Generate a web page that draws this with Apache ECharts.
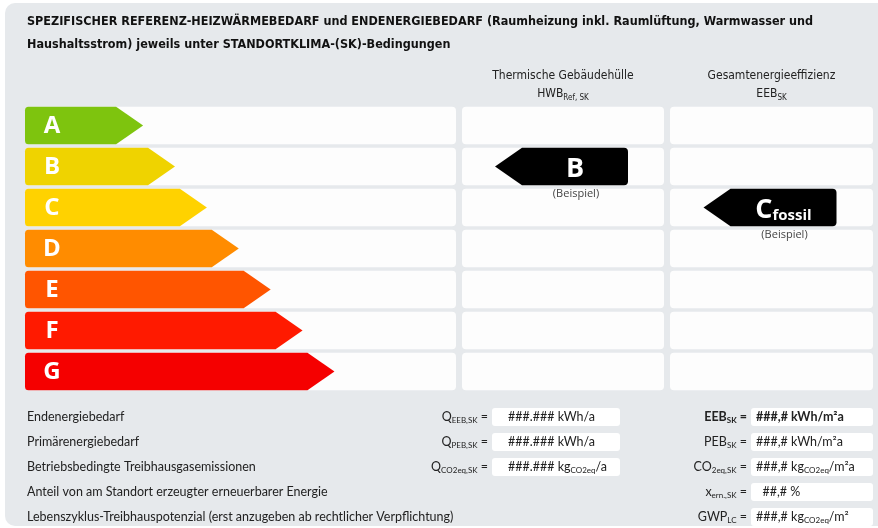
<!DOCTYPE html>
<html><head><meta charset="utf-8">
<script src="https://cdn.jsdelivr.net/npm/echarts@6/dist/echarts.min.js"></script>
<style>html,body{margin:0;padding:0;background:#fff}#c{width:878px;height:528px}</style>
</head><body><div id="c"></div>
<script>
// ---------- data ----------
const titleLines = [
  'SPEZIFISCHER REFERENZ-HEIZWÄRMEBEDARF und ENDENERGIEBEDARF (Raumheizung inkl. Raumlüftung, Warmwasser und',
  'Haushaltsstrom) jeweils unter STANDORTKLIMA-(SK)-Bedingungen'
];
const classes = ['A', 'B', 'C', 'D', 'E', 'F', 'G'];
const classColors = ['#7ec40e', '#efd300', '#ffd200', '#ff8c00', '#ff5500', '#ff1a00', '#f50000'];
const arrowLength = [27.4, 34.8, 42.2, 49.6, 57.0, 64.4, 71.8];
const columnTitles = ['Thermische Gebäudehülle', 'Gesamtenergieeffizienz'];
const columnSymbols = ['HWB_{Ref, SK}', 'EEB_{SK}'];
const ratedClass = ['B', 'C'];
const ratedSuffix = ['', 'fossil'];
const ratedNote = ['(Beispiel)', '(Beispiel)'];
const bottomLabels = [
  'Endenergiebedarf',
  'Primärenergiebedarf',
  'Betriebsbedingte Treibhausgasemissionen',
  'Anteil von am Standort erzeugter erneuerbarer Energie',
  'Lebenszyklus-Treibhauspotenzial (erst anzugeben ab rechtlicher Verpflichtung)'
];
const absSymbols = ['Q_{EEB,SK} =', 'Q_{PEB,SK} =', 'Q_{CO2eq,SK} =', '', ''];
const absValues = ['###.### kWh/a', '###.### kWh/a', '###.### kg_{CO2eq}/a', '', ''];
const specSymbols = ['EEB_{SK} =', 'PEB_{SK} =', 'CO_{2eq,SK} =', 'x_{ern.,SK} =', 'GWP_{LC} ='];
const specValues = ['###,# kWh/m²a', '###,# kWh/m²a', '###,# kg_{CO2eq}/m²a', '  ##,# %', '###,# kg_{CO2eq}/m²'];
const boldRow = 0;

// ---------- helpers ----------
const BODY = 'Lato, "Open Sans", sans-serif';
const COND = '"Liberation Sans Narrow", "DejaVu Sans Condensed", sans-serif';
const HEAD = '"Open Sans", Lato, sans-serif';

function toRich(str) {
  return '{m|' + str.replace(/_\{([^}]*)\}/g, '}{s|$1}{m|') + '}';
}
function richStyle(size, family, weight, color) {
  return {
    m: { fontSize: size, fontFamily: family, fontWeight: weight, fill: color, lineHeight: size + 3 },
    s: { fontSize: Math.round(size * 0.66), fontFamily: family, fontWeight: weight, fill: color,
         lineHeight: Math.round(size * 0.66), verticalAlign: 'bottom' }
  };
}
function gText(x, y, text, opt) {
  return {
    type: 'text', z: 10, x: 0, y: 0,
    style: Object.assign({
      text: text, x: x, y: y, fill: '#222',
      textAlign: 'left', textVerticalAlign: 'middle',
      align: 'left', verticalAlign: 'middle'
    }, opt)
  };
}

// ---------- layout ----------
const rowsTop = 105, rowsHeight = 287;
const grids = [
  { left: 25, top: rowsTop, width: 431, height: rowsHeight },
  { left: 462, top: rowsTop, width: 202, height: rowsHeight },
  { left: 670, top: rowsTop, width: 203, height: rowsHeight }
];

function rowGeom(params, api, idx) {
  const band = api.size([0, 1])[1];
  const cy = api.coord([0, idx])[1];
  const h = band - 3.5;
  return { cy: cy, h: h, y0: cy - h / 2, y1: cy + h / 2 };
}

function renderRow(params, api) {
  const idx = api.value(1);
  const cs = params.coordSys;
  const g = rowGeom(params, api, idx);
  return {
    type: 'rect',
    shape: { x: cs.x, y: g.y0, width: cs.width, height: g.h, r: 4 },
    style: { fill: '#fdfdfd' }
  };
}

function renderArrow(params, api) {
  const idx = api.value(1);
  const cs = params.coordSys;
  const g = rowGeom(params, api, idx);
  const x0 = cs.x;
  const tip = api.coord([api.value(0), idx])[0];
  const head = g.h * 0.72;
  const xb = tip - head;
  const r = 3.5;
  const y0 = g.y0, y1 = g.y1, cy = g.cy;
  const d = 'M' + (x0 + r) + ' ' + y0 + 'L' + xb + ' ' + y0 + 'L' + tip + ' ' + cy + 'L' + xb + ' ' + y1 +
    'L' + (x0 + r) + ' ' + y1 + 'Q' + x0 + ' ' + y1 + ' ' + x0 + ' ' + (y1 - r) +
    'L' + x0 + ' ' + (y0 + r) + 'Q' + x0 + ' ' + y0 + ' ' + (x0 + r) + ' ' + y0 + 'Z';
  return {
    type: 'group',
    children: [
      { type: 'path', shape: { pathData: d, x: x0, y: y0, width: tip - x0, height: g.h, layout: 'cover' },
        style: { fill: classColors[idx] } },
      { type: 'text', style: { text: classes[idx], x: x0 + 27, y: cy + 1, fill: '#fff',
        font: 'bold 24px ' + HEAD, textAlign: 'center', textVerticalAlign: 'middle',
        align: 'center', verticalAlign: 'middle' } }
    ]
  };
}

function makeMarkerRenderer(col) {
  return function (params, api) {
    const idx = api.value(1);
    const cs = params.coordSys;
    const g = rowGeom(params, api, idx);
    const w = 133;
    const cx = cs.x + cs.width / 2 - 1.5;
    const tipX = cx - w / 2, right = cx + w / 2;
    const head = g.h * 0.72;
    const xb = tipX + head;
    const r = 4;
    const y0 = g.y0, y1 = g.y1, cy = g.cy;
    const d = 'M' + tipX + ' ' + cy + 'L' + xb + ' ' + y0 + 'L' + (right - r) + ' ' + y0 +
      'Q' + right + ' ' + y0 + ' ' + right + ' ' + (y0 + r) + 'L' + right + ' ' + (y1 - r) +
      'Q' + right + ' ' + y1 + ' ' + (right - r) + ' ' + y1 + 'L' + xb + ' ' + y1 + 'Z';
    const bodyC = (xb + right) / 2;
    const label = ratedSuffix[col]
      ? '{c|' + ratedClass[col] + '}{f|' + ratedSuffix[col] + '}'
      : '{c|' + ratedClass[col] + '}';
    return {
      type: 'group',
      children: [
        { type: 'path', shape: { pathData: d, x: tipX, y: y0, width: w, height: g.h, layout: 'cover' },
          style: { fill: '#000' } },
        { type: 'text', style: {
            text: label, x: bodyC, y: cy + 1, fill: '#fff',
            textAlign: 'center', textVerticalAlign: 'middle', align: 'center', verticalAlign: 'middle',
            rich: {
              c: { fontSize: 27, fontWeight: 'bold', fontFamily: HEAD, fill: '#fff', lineHeight: 30, verticalAlign: 'bottom' },
              f: { fontSize: 15, fontWeight: 'bold', fontFamily: HEAD, fill: '#fff', lineHeight: 18, verticalAlign: 'bottom' }
            } } },
        { type: 'text', style: {
            text: ratedNote[col], x: bodyC + 1, y: y1 + 9, fill: '#444',
            font: '11px ' + HEAD, textAlign: 'center', textVerticalAlign: 'middle',
            align: 'center', verticalAlign: 'middle' } }
      ]
    };
  };
}

// ---------- graphic (panel, texts, table) ----------
const graphics = [];
graphics.push({ type: 'rect', z: -10, shape: { x: 5, y: 3, width: 890, height: 523, r: [10, 0, 0, 10] },
  style: { fill: '#e6e9ec' } });
titleLines.forEach(function (t, i) {
  graphics.push(gText(27, 22 + i * 23, t, { font: 'bold 12.5px ' + COND, fill: '#111' }));
});
columnTitles.forEach(function (t, i) {
  const cx = grids[i + 1].left + grids[i + 1].width / 2;
  graphics.push(gText(cx, 76, t, { font: '12px ' + COND, fill: '#222', textAlign: 'center', align: 'center' }));
  graphics.push(gText(cx, 94, toRich(columnSymbols[i]), {
    textAlign: 'center', align: 'center', rich: richStyle(12, COND, 'normal', '#222') }));
});
const rowY = [417, 442, 467, 492, 517];
bottomLabels.forEach(function (t, i) {
  const y = rowY[i];
  graphics.push(gText(27, y, t, { font: '12.5px ' + BODY, fill: '#222' }));
  if (absSymbols[i]) {
    graphics.push(gText(488, y, toRich(absSymbols[i]), {
      textAlign: 'right', align: 'right', rich: richStyle(12.5, BODY, 'normal', '#222') }));
    graphics.push({ type: 'rect', z: 5, shape: { x: 492, y: y - 9, width: 128, height: 18, r: 3 }, style: { fill: '#fff' } });
    graphics.push(gText(508, y, toRich(absValues[i]), { rich: richStyle(12.5, BODY, 'normal', '#222') }));
  }
  if (specSymbols[i]) {
    const w = i === boldRow ? 'bold' : 'normal';
    graphics.push(gText(747, y, toRich(specSymbols[i]), {
      textAlign: 'right', align: 'right', rich: richStyle(12.5, BODY, w, '#222') }));
    graphics.push({ type: 'rect', z: 5, shape: { x: 751, y: y - 9, width: 122, height: 18, r: 3 }, style: { fill: '#fff' } });
    graphics.push(gText(756, y, toRich(specValues[i]), { rich: richStyle(12.5, BODY, w, '#222') }));
  }
});

// ---------- chart ----------
const chart = echarts.init(document.getElementById('c'), null, { renderer: 'canvas' });
const rowData = classes.map(function (c, i) { return [0, i]; });
const series = [];
grids.forEach(function (g, gi) {
  series.push({ type: 'custom', xAxisIndex: gi, yAxisIndex: gi, z: 1, silent: true,
    encode: { x: 0, y: 1 }, data: rowData, renderItem: renderRow });
});
series.push({ type: 'custom', xAxisIndex: 0, yAxisIndex: 0, z: 3, silent: true,
  encode: { x: 0, y: 1 }, data: arrowLength.map(function (v, i) { return [v, i]; }), renderItem: renderArrow });
ratedClass.forEach(function (cls, ci) {
  series.push({ type: 'custom', xAxisIndex: ci + 1, yAxisIndex: ci + 1, z: 4, silent: true,
    encode: { x: 0, y: 1 }, data: [[50, classes.indexOf(cls)]], renderItem: makeMarkerRenderer(ci) });
});

chart.setOption({
  animation: false,
  backgroundColor: '#ffffff',
  grid: grids,
  xAxis: grids.map(function (g, i) { return { type: 'value', gridIndex: i, min: 0, max: 100, show: false }; }),
  yAxis: grids.map(function (g, i) { return { type: 'category', gridIndex: i, data: classes, inverse: true, show: false }; }),
  graphic: graphics,
  series: series
});
</script>
</body></html>
